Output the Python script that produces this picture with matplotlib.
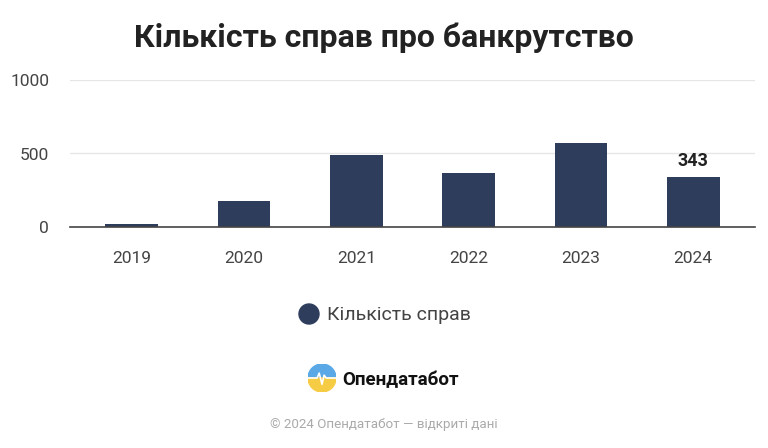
import matplotlib
matplotlib.use("Agg")
import matplotlib.pyplot as plt
from matplotlib.patches import Wedge, Ellipse
from matplotlib.lines import Line2D

years = ["2019", "2020", "2021", "2022", "2023", "2024"]
cases = [18, 175, 490, 366, 570, 343]
y_ticks = [0, 500, 1000]
title = "Кількість справ про банкрутство"
legend_label = "Кількість справ"
brand = "Опендатабот"
footer = "© 2024 Опендатабот — відкриті дані"

bar_color = "#2e3d5c"
plt.rcParams["font.family"] = ["Roboto", "DejaVu Sans"]

fig = plt.figure(figsize=(7.68, 4.48), dpi=100)
ax = fig.add_axes([70 / 768, 1 - 227 / 448, 685 / 768, 147 / 448])

x = range(len(years))
ax.bar(x, cases, width=0.47, color=bar_color, zorder=3)
ax.set_xlim(-0.55, len(years) - 0.45)
ax.set_ylim(0, 1000)
ax.set_yticks(y_ticks)
ax.set_xticks(list(x))
ax.set_xticklabels(years)
ax.grid(axis="y", color="#e6e6e6", linewidth=1, zorder=0)
for s in ["top", "right", "left"]:
    ax.spines[s].set_visible(False)
ax.spines["bottom"].set_color("#444444")
ax.spines["bottom"].set_linewidth(1.2)
ax.spines["bottom"].set_zorder(4)
ax.tick_params(axis="both", length=0, labelsize=12.5, colors="#444444")
ax.tick_params(axis="x", pad=17)
ax.tick_params(axis="y", pad=15)

ax.text(len(years) - 1, cases[-1] + 45, str(cases[-1]), ha="center", va="bottom",
        fontsize=13, fontweight="bold", color="#222222")

fig.text(0.5, 1 - 38 / 448, title, ha="center", va="center",
         fontsize=23, fontweight="bold", color="#222222")

# legend
fig.patches.append(Ellipse((309 / 768, 1 - 314 / 448), 20 / 768, 20 / 448,
                           transform=fig.transFigure, color=bar_color, figure=fig))
fig.text(327 / 768, 1 - 315 / 448, legend_label, ha="left", va="center",
         fontsize=14, color="#444444")

# logo
lax = fig.add_axes([308 / 768, 1 - 392 / 448, 28 / 768, 28 / 448])
lax.set_xlim(-1, 1)
lax.set_ylim(-1, 1)
lax.set_aspect("equal")
lax.axis("off")
lax.add_patch(Wedge((0, 0), 1, 0, 180, color="#5aa8e6"))
lax.add_patch(Wedge((0, 0), 1, 180, 360, color="#f7cc45"))
lax.add_line(Line2D([-1, -0.35, -0.2, 0, 0.15, 0.3, 1], [0, 0, 0.35, -0.45, 0.2, 0, 0],
                    color="white", linewidth=1.2))
fig.text(342 / 768, 1 - 380 / 448, brand, ha="left", va="center",
         fontsize=13.5, fontweight="bold", color="#111111")

fig.text(0.5, 1 - 424 / 448, footer, ha="center", va="center",
         fontsize=9.6, color="#aaaaaa")

fig.savefig("out.png", dpi=100, facecolor="white")
